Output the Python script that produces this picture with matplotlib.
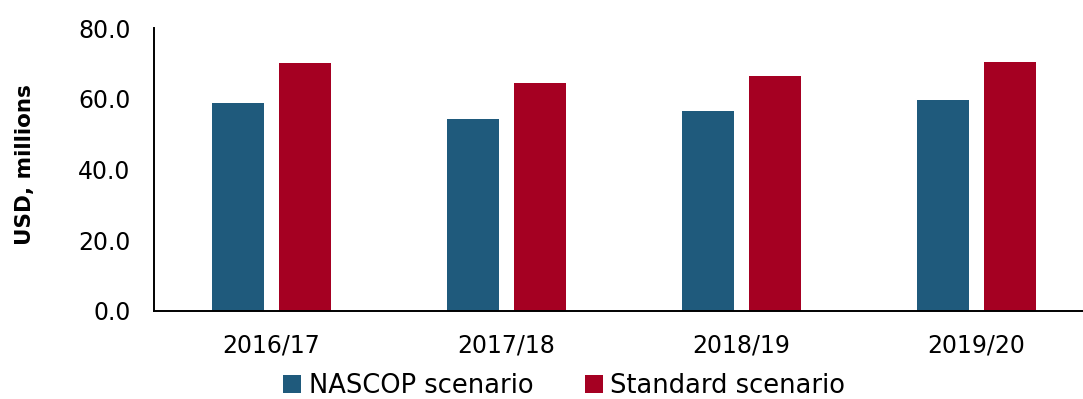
import matplotlib.pyplot as plt
import numpy as np

years = ["2016/17", "2017/18", "2018/19", "2019/20"]
nascop = [58.9, 54.2, 56.5, 59.6]
standard = [70.2, 64.4, 66.3, 70.4]

blue = "#1F5A7C"
red = "#A50022"

fig = plt.figure(figsize=(10.83, 3.99), dpi=100)
ax = fig.add_axes([0.1422, 0.2206, 0.8680, 0.7092])

x = np.arange(len(years))
w = 0.221
off = 0.1426
ax.bar(x - off, nascop, w, color=blue, label="NASCOP scenario")
ax.bar(x + off, standard, w, color=red, label="Standard scenario")

ax.set_xlim(-0.5, len(years) - 0.5)
ax.set_ylim(0, 80)
ax.set_yticks(np.arange(0, 81, 20))
ax.set_yticklabels([f"{v:.1f}" for v in np.arange(0, 81, 20)])
ax.set_xticks(x)
ax.set_xticklabels(years)
ax.tick_params(axis="both", length=0, labelsize=17, colors="black")
ax.tick_params(axis="y", pad=17)
ax.tick_params(axis="x", pad=16)

for s in ["top", "right"]:
    ax.spines[s].set_visible(False)
for s in ["left", "bottom"]:
    ax.spines[s].set_color("black")
    ax.spines[s].set_linewidth(1.4)

fig.text(0.023, 0.588, "USD, millions", rotation=90, ha="center", va="center",
         fontsize=15.5, fontweight="bold")

fig.legend(loc="center", bbox_to_anchor=(0.521, 0.032), ncol=2, frameon=False,
           fontsize=18.5, handlelength=0.7, handleheight=0.7, handletextpad=0.3,
           columnspacing=2.0, borderpad=0)

fig.savefig("out.png", dpi=100)
